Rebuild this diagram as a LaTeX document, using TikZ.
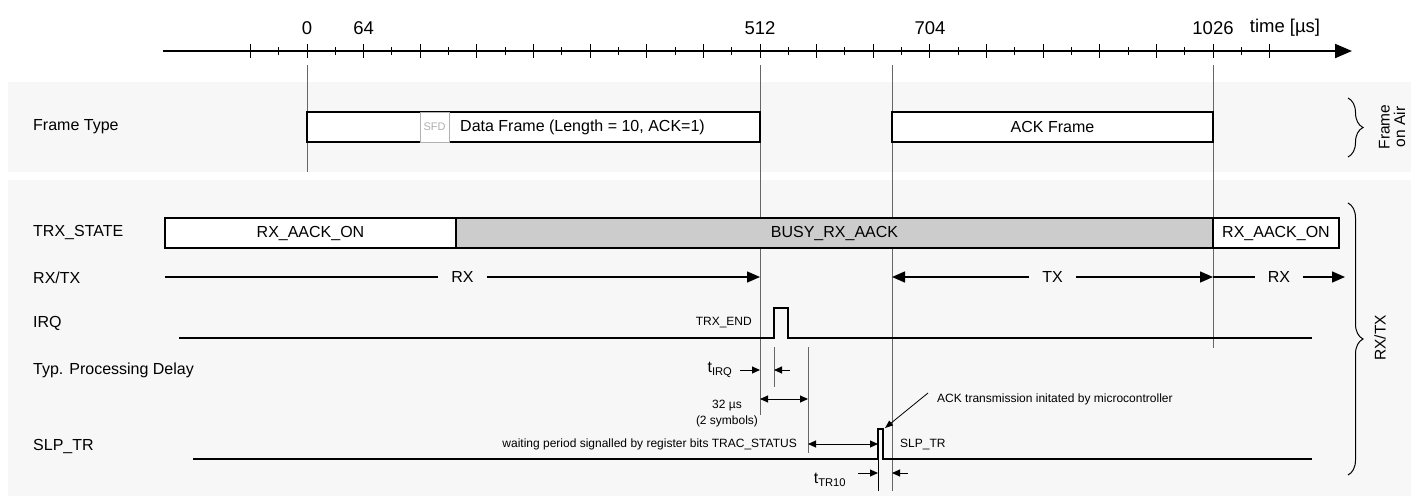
\documentclass[tikz,border=0pt]{standalone}
\usepackage{fontspec}
\setmainfont{Liberation Sans}
\usetikzlibrary{arrows.meta,decorations.pathreplacing}
\definecolor{bandgray}{HTML}{F7F7F7}
\definecolor{busygray}{HTML}{CCCCCC}
\definecolor{guidegray}{HTML}{666666}
\definecolor{sfdgray}{HTML}{B0B0B0}
\newcommand{\lblfont}{\fontsize{16}{19}\selectfont}
\newcommand{\axisfont}{\fontsize{18.5}{20}\selectfont}
\newcommand{\notefont}{\fontsize{12}{16}\selectfont}
\newcommand{\rotfont}{\fontsize{15.5}{15.5}\selectfont}
\begin{document}
\begin{tikzpicture}[x=1pt,y=-1pt,
    every node/.style={font=\lblfont, inner sep=0pt},
    sig/.style={line width=1.4pt},
    guideline/.style={draw=guidegray, line width=0.9pt},
    framebox/.style={draw, line width=1.4pt},
    dim/.style={line width=1pt, -{Triangle[length=8pt,width=7pt]}},
    dimboth/.style={line width=1pt, {Triangle[length=8pt,width=7pt]}-{Triangle[length=8pt,width=7pt]}},
    bigarr/.style={line width=1.4pt, -{Triangle[length=13pt,width=11pt]}},
    gapnode/.style={inner xsep=13pt},
    note/.style={font=\notefont},
    curly/.style={decorate, decoration={brace, amplitude=15pt}, line width=1pt}]
    \useasboundingbox (0,0) rectangle (1422,496);
    \fill[bandgray] (8,82) rectangle (1411,172);
    \fill[bandgray] (8,180) rectangle (1411,496);

    % time axis
    \draw[line width=2pt, -{Triangle[length=17pt,width=14pt]}] (163,51) -- (1352,51);
    \foreach \k in {-1,...,17}
        \draw[line width=0.9pt] ({307+56.625*\k},44) -- ++(0,14);
    \foreach \k in {-1,...,16}
        \draw[line width=0.9pt] ({307+56.625*(\k+0.5)},47) -- ++(0,8);
    \foreach \lab/\x in {0/307, 64/363.6, 512/760, 704/930, 1026/1213}
        \node[font=\axisfont] (t\lab) at (\x,28) {\lab};
    \node[font=\axisfont] (tunit) at (1285,28) {time [µs]};

    % guide lines
    \draw[guideline] (307,65) -- (307,172);
    \draw[guideline] (760,65) -- (760,415);
    \draw[guideline] (892,65) -- (892,491);
    \draw[guideline] (1213,65) -- (1213,348);

    % frame on air
    \node[anchor=west] (frametype) at (33,127) {Frame Type};
    \filldraw[framebox, fill=white] (307,112) rectangle (760,142);
    \filldraw[draw=sfdgray, line width=0.8pt, fill=white] (420,112) rectangle (449,142);
    \node[font=\fontsize{11}{12}\selectfont, text=sfdgray] (sfd) at (434.5,127) {SFD};
    \node[anchor=west] (dataframe) at (460,127) {Data Frame (Length = 10, ACK=1)};
    \filldraw[framebox, fill=white] (892,112) rectangle (1213,142);
    \node (ackframe) at (1052.5,127) {ACK Frame};
    \draw[curly] (1348,98) -- (1348,157);
    \node[rotate=90, align=center, font=\rotfont] (onair) at (1392,127) {Frame\\on Air};

    % trx state
    \node[anchor=west] (trxstate) at (33,232) {TRX\_STATE};
    \filldraw[framebox, fill=white] (165,218) rectangle (456,248);
    \filldraw[framebox, fill=busygray] (456,218) rectangle (1213,248);
    \filldraw[framebox, fill=white] (1213,218) rectangle (1339,248);
    \node (aackon1) at (310.5,233) {RX\_AACK\_ON};
    \node (busy) at (834.5,233) {BUSY\_RX\_AACK};
    \node (aackon2) at (1276,233) {RX\_AACK\_ON};

    % rx/tx
    \node[anchor=west] (rxtx) at (33,278) {RX/TX};
    \node[gapnode] (rxa) at (462.5,277) {RX};
    \draw[sig] (165,277) -- (rxa.west);
    \draw[bigarr] (rxa.east) -- (760,277);
    \node[gapnode] (tx) at (1052.5,277) {TX};
    \draw[bigarr] (tx.west) -- (892,277);
    \draw[bigarr] (tx.east) -- (1213,277);
    \node[gapnode] (rxb) at (1279,277) {RX};
    \draw[sig] (1213,277) -- (rxb.west);
    \draw[bigarr] (rxb.east) -- (1345,277);

    % irq
    \node[anchor=west] (irq) at (33,323) {IRQ};
    \draw[sig] (179,338) -- (774,338) -- (774,308) -- (788,308) -- (788,338) -- (1312,338);
    \node[note, anchor=east] (trxend) at (752,323) {TRX\_END};

    % processing delay
    \node[anchor=west] (delay) at (33,370) {Typ. Processing Delay};
    \draw[guideline] (774,347) -- (774,387);
    \draw[guideline] (808,347) -- (808,453);
    \node (tirq) at (720,370) {t\textsubscript{IRQ}};
    \draw[dim] (740,370) -- (760,370);
    \draw[dim] (790,370) -- (774,370);
    \draw[dimboth] (760,399) -- (808,399);
    \node[note, align=center] (symbols) at (727,414) {32 µs\\(2 symbols)};
    \draw[dimboth] (808,444) -- (878,444);
    \node[note, anchor=east] (waiting) at (797,444) {waiting period signalled by register bits TRAC\_STATUS};

    % slp_tr
    \node[anchor=west] (slptr) at (33,446) {SLP\_TR};
    \draw[sig] (193,459) -- (878,459) -- (878,429) -- (883,429) -- (883,459) -- (1312,459);
    \draw[line width=0.9pt] (878,459) -- (878,491);
    \node[note, anchor=west] (slptrpulse) at (900,444) {SLP\_TR};
    \node (ttr) at (830,480) {t\textsubscript{TR10}};
    \draw[dim] (858,473) -- (878,473);
    \draw[dim] (908,473) -- (892,473);
    \node[note, anchor=west] (acknote) at (937,399) {ACK transmission initated by microcontroller};
    \draw[line width=0.8pt, -{Triangle[length=8pt,width=6pt]}] (928,393) -- (885,428);

    \draw[curly] (1348,203) -- (1348,475);
    \node[rotate=90, font=\rotfont] (rxtxside) at (1380,338) {RX/TX};
\end{tikzpicture}
\end{document}
